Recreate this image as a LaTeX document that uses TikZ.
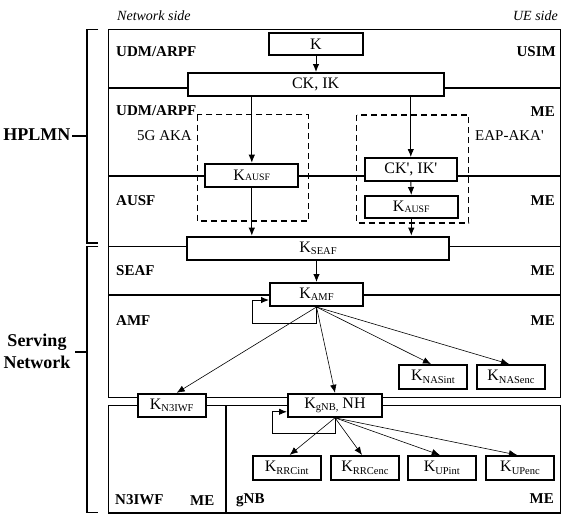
\documentclass[tikz,border=0pt]{standalone}
\usepackage{fontspec}
\setmainfont{Liberation Serif}[Ligatures=TeXOff]
\usetikzlibrary{arrows.meta,calc}
\newcommand\Ksub[1]{K\raisebox{-2.5pt}{\fontsize{10.5}{10.5}\selectfont #1}}
\newcommand\Ksc[1]{K\raisebox{-0.5pt}{\fontsize{9.8}{10}\selectfont #1}}
\begin{document}
\begin{tikzpicture}[x=1pt,y=-1pt,
  keybox/.style={draw, line width=2pt, fill=white, inner sep=0pt, font=\fontsize{16}{16}\selectfont},
  lbl/.style={font=\bfseries\fontsize{15}{15}\selectfont, inner sep=0pt},
  side/.style={font=\itshape\fontsize{14}{14}\selectfont, inner sep=0pt},
  akalbl/.style={font=\fontsize{15}{15}\selectfont, inner sep=0pt},
  plmn/.style={font=\bfseries\fontsize{18}{22}\selectfont, inner sep=0pt, align=center},
  frame/.style={line width=1.1pt},
  dashbox/.style={line width=1.1pt, dash pattern=on 6pt off 4pt},
  arr/.style={-{Latex[length=8pt,width=6.5pt]}, line width=0.9pt},
  thinarr/.style={-{Latex[length=8pt,width=6.5pt]}, line width=0.6pt}]
\useasboundingbox (0,0) rectangle (566,520);

% frames and separators
\draw[frame] (108.5,29.3) rectangle (560.7,397.5);
\draw[frame] (108.5,88) -- (560.7,88);
\draw[frame] (108.5,176) -- (560.7,176);
\draw[frame] (108.5,246.5) -- (560.7,246.5);
\draw[frame] (108.5,295) -- (560.7,295);
\draw[frame] (108.5,405.3) rectangle (560.7,513);
\draw[line width=1.8pt] (225.8,405.3) -- (225.8,513);

% brackets
\draw[frame] (98.3,29.3) -- (87,29.3) -- (87,243) -- (98.3,243);
\draw[frame] (98.3,246.5) -- (87,246.5) -- (87,512.5) -- (98.3,512.5);
\node[plmn, anchor=base east] (hplmn) at (70.6,140) {HPLMN};
\draw[frame] (72,136) -- (87,136);
\node[plmn] (serving) at (37,351) {Serving\\Network};
\draw[frame] (75,352) -- (87,352);

% dashed boxes
\draw[dashbox] (197.3,114.5) rectangle (308.3,221);
\draw[dashbox] (356.5,115) rectangle (468.5,223);

% side labels
\node[side, anchor=base west] (netside) at (117,20) {Network side};
\node[side, anchor=base east] (ueside) at (558,20) {UE side};
\node[lbl, anchor=base west] (l1) at (116,56.5) {UDM/ARPF};
\node[lbl, anchor=base east] (r1) at (556,56.5) {USIM};
\node[lbl, anchor=base west] (l2) at (116,115.7) {UDM/ARPF};
\node[lbl, anchor=base east] (r2) at (555,116) {ME};
\node[akalbl, anchor=base east] (aka5g) at (192,140) {5G AKA};
\node[akalbl, anchor=base west] (eapaka) at (475,140) {EAP-AKA'};
\node[lbl, anchor=base west] (l3) at (116,205.7) {AUSF};
\node[lbl, anchor=base east] (r3) at (555,205.7) {ME};
\node[lbl, anchor=base west] (l4) at (116,275) {SEAF};
\node[lbl, anchor=base east] (r4) at (555,275) {ME};
\node[lbl, anchor=base west] (l5) at (116,325) {AMF};
\node[lbl, anchor=base east] (r5) at (555,325) {ME};
\node[lbl, anchor=base west] (l6) at (115,504) {N3IWF};
\node[lbl, anchor=base west] (r6) at (190,505) {ME};
\node[lbl, anchor=base west] (l7) at (236,503) {gNB};
\node[lbl, anchor=base east] (r7) at (554,503) {ME};

% key boxes
\node[keybox, minimum width=93.5pt, minimum height=22.5pt] (k) at (316,44.2) {K};
\node[keybox, minimum width=256pt, minimum height=23pt] (cki) at (315.6,84.5) {CK, IK};
\node[keybox, minimum width=93pt, minimum height=23pt] (kausf1) at (251.8,175.2) {\Ksc{AUSF}};
\node[keybox, minimum width=91.6pt, minimum height=23pt] (ckp) at (410.8,169.5) {CK', IK'};
\node[keybox, minimum width=92.7pt, minimum height=22pt] (kausf2) at (411.3,207) {\Ksc{AUSF}};
\node[keybox, minimum width=262pt, minimum height=23.3pt] (kseaf) at (318,248.3) {\Ksub{SEAF}};
\node[keybox, minimum width=93pt, minimum height=23pt] (kamf) at (316.5,294.5) {\Ksub{AMF}};
\node[keybox, minimum width=68pt, minimum height=23pt] (kn3) at (171.7,405.3) {\Ksub{N3IWF}};
\node[keybox, minimum width=94pt, minimum height=23pt] (kgnb) at (335,405.3) {\Ksub{gNB,} NH};
\node[keybox, minimum width=68pt, minimum height=24pt] (knasint) at (433,377) {\Ksub{NASint}};
\node[keybox, minimum width=68pt, minimum height=24pt] (knasenc) at (511,377) {\Ksub{NASenc}};
\node[keybox, minimum width=68pt, minimum height=23.7pt] (krrcint) at (286.7,467.8) {\Ksub{RRCint}};
\node[keybox, minimum width=68pt, minimum height=23.7pt] (krrcenc) at (365,467.8) {\Ksub{RRCenc}};
\node[keybox, minimum width=68pt, minimum height=23.7pt] (kupint) at (441.8,467.8) {\Ksub{UPint}};
\node[keybox, minimum width=68pt, minimum height=23.7pt] (kupenc) at (520,467.8) {\Ksub{UPenc}};

% arrows
\draw[arr] (k.south) -- (k.south |- cki.north);
\draw[arr] (cki.south -| kausf1.north) -- (kausf1.north);
\draw[arr] (cki.south -| ckp.north) -- (ckp.north);
\draw[arr] (ckp.south) -- (kausf2.north);
\draw[arr] (kausf1.south) -- (kausf1.south |- kseaf.north);
\draw[arr] (kausf2.south) -- (kausf2.south |- kseaf.north);
\draw[arr] (kseaf.south -| kamf.north) -- (kamf.north);

\coordinate (loopa) at (252.5,323);
\draw[arr] (kamf.south) |- (loopa) |- ([yshift=-5.5pt]kamf.west);
\draw[thinarr] (kamf.south) -- ([xshift=5pt]kn3.north);
\draw[thinarr] (kamf.south) -- (kgnb.north);
\draw[thinarr] (kamf.south) -- ([xshift=-2pt]knasint.north);
\draw[thinarr] (kamf.south) -- ([xshift=-2pt]knasenc.north);

\coordinate (loopb) at (272.5,433);
\draw[arr] (kgnb.south) |- (loopb) |- ([yshift=-6.5pt]kgnb.west);
\draw[thinarr] (kgnb.south) -- ([xshift=3pt]krrcint.north);
\draw[thinarr] (kgnb.south) -- ([xshift=-3pt]krrcenc.north);
\draw[thinarr] (kgnb.south) -- ([xshift=-2pt]kupint.north);
\draw[thinarr] (kgnb.south) -- ([xshift=-3pt]kupenc.north);
\end{tikzpicture}
\end{document}
